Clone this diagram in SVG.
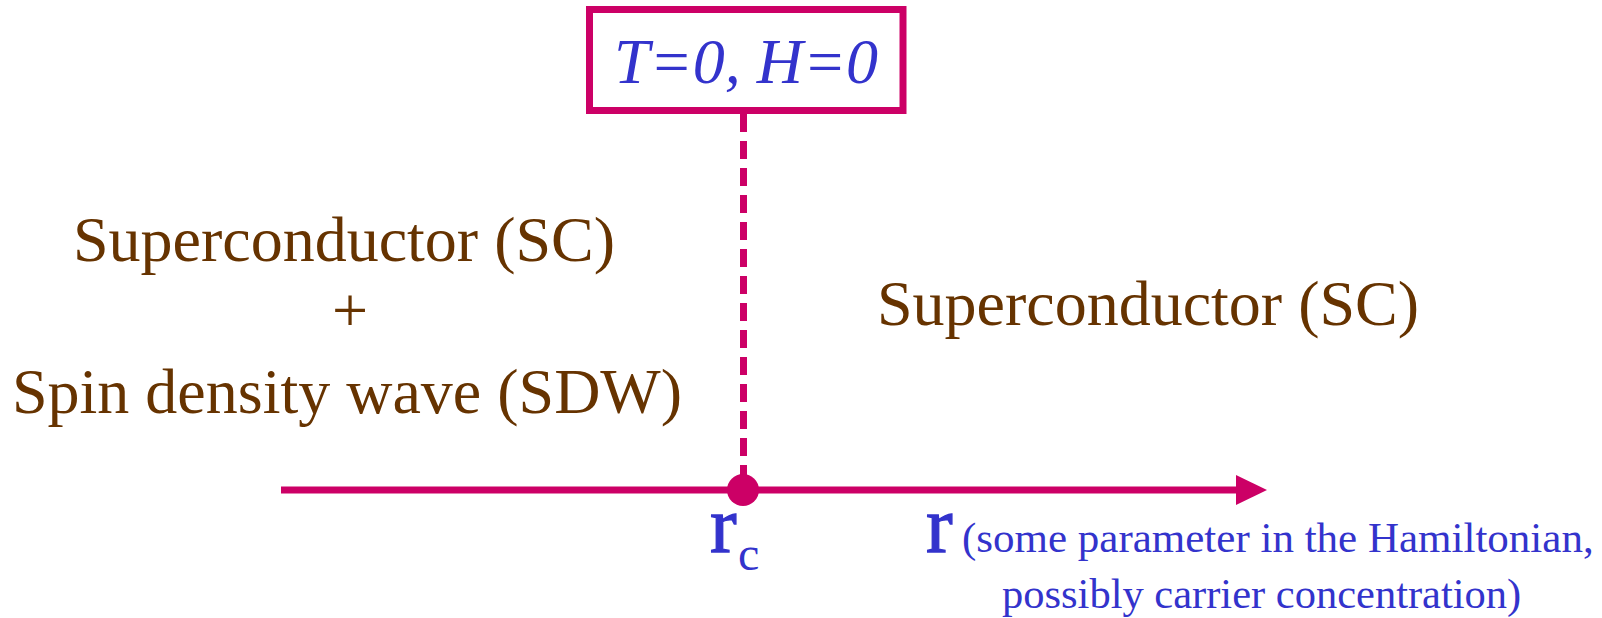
<svg xmlns="http://www.w3.org/2000/svg" width="1602" height="618" viewBox="0 0 1602 618">
<style>
.phase{font-family:"Liberation Serif","Times New Roman",serif;fill:#663300;font-size:64px}
.blue{font-family:"Liberation Serif","Times New Roman",serif;fill:#3333CC}
.big{font-size:80px;stroke:#3333CC;stroke-width:1.3}
.mag{stroke:#CC0066;stroke-width:7;fill:none}
</style>
<rect width="1602" height="618" fill="#ffffff"/>
<g id="connectors">
<line class="mag" x1="743.5" y1="114" x2="743.5" y2="480" stroke-dasharray="18,9"/>
<line class="mag" x1="281" y1="490" x2="1240" y2="490"/>
<polygon points="1236,475 1267,490 1236,505" fill="#CC0066"/>
<circle cx="743" cy="490" r="16" fill="#CC0066"/>
</g>
<g id="condition">
<rect class="mag" x="589.5" y="9.5" width="313.5" height="101" fill="#ffffff"/>
<text class="blue" x="746" y="83" font-size="64" font-style="italic" text-anchor="middle">T=0, H=0</text>
</g>
<g id="sc-sdw">
<text class="phase" x="344" y="261" text-anchor="middle">Superconductor (SC)</text>
<text class="phase" x="350" y="332" text-anchor="middle">+</text>
<text class="phase" x="347" y="413" text-anchor="middle" font-size="63.5">Spin density wave (SDW)</text>
</g>
<g id="sc">
<text class="phase" x="1148" y="325" text-anchor="middle">Superconductor (SC)</text>
</g>
<g id="rc">
<text class="blue big" x="710" y="552">r</text>
<text class="blue" x="738" y="570" font-size="48">c</text>
</g>
<g id="r-label">
<text class="blue big" x="926" y="552">r</text>
<text class="blue" x="962" y="552" font-size="43">(some parameter in the Hamiltonian,</text>
<text class="blue" x="1002" y="608" font-size="42.5">possibly carrier concentration)</text>
</g>
</svg>
